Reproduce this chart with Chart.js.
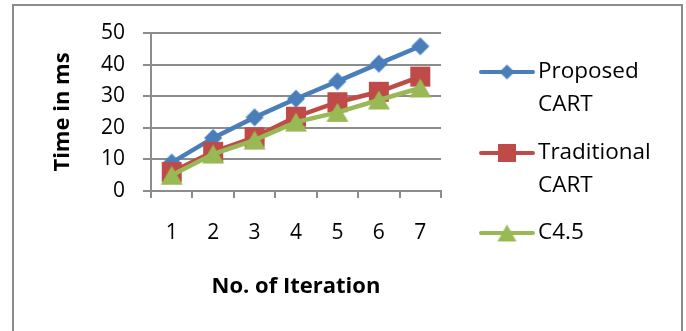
<!DOCTYPE html>
<html>
<head>
<meta charset="utf-8">
<script src="https://cdn.jsdelivr.net/npm/chart.js@4.4.0/dist/chart.umd.min.js"></script>
<style>
  html, body { margin: 0; padding: 0; background: #fff; }
  #wrap { width: 686px; height: 331px; position: relative; }
</style>
</head>
<body>
<div id="wrap"><canvas id="c" width="686" height="331"></canvas></div>
<script>
// Running time per iteration for the three decision-tree builders
const iterations = ['1', '2', '3', '4', '5', '6', '7'];
const proposedCart = [9, 16.8, 23.3, 29.2, 34.7, 40.3, 45.8];
const traditionalCart = [6, 12.4, 17, 23.5, 28.1, 31.4, 36.2];
const c45 = [5, 11.7, 16.1, 21.8, 24.9, 28.8, 32.6];
const yTicks = [0, 10, 20, 30, 40, 50];
const seriesNames = [['Proposed', 'CART'], ['Traditional', 'CART'], ['C4.5']];

const FONT = '"Open Sans", "DejaVu Sans", sans-serif';
const BLUE = '#4A7EBB';
const RED = '#BE4B48';
const GREEN = '#98B954';
const GRID = '#8C8C8C';

// Small offscreen canvases used as point markers
function markerCanvas(shape, w, h, color) {
  const cv = document.createElement('canvas');
  cv.width = Math.ceil(w) + 2;
  cv.height = Math.ceil(h) + 2;
  const g = cv.getContext('2d');
  const cx = cv.width / 2, cy = cv.height / 2;
  g.fillStyle = color;
  g.beginPath();
  if (shape === 'diamond') {
    g.moveTo(cx, cy - h / 2); g.lineTo(cx + w / 2, cy);
    g.lineTo(cx, cy + h / 2); g.lineTo(cx - w / 2, cy);
  } else if (shape === 'square') {
    g.rect(cx - w / 2, cy - h / 2, w, h);
  } else {
    g.moveTo(cx, cy - h / 2); g.lineTo(cx + w / 2, cy + h / 2); g.lineTo(cx - w / 2, cy + h / 2);
  }
  g.closePath();
  g.fill();
  return cv;
}

const series = [
  { name: seriesNames[0], values: proposedCart, color: BLUE, shape: 'diamond', size: [18, 18], legendSize: [15, 15] },
  { name: seriesNames[1], values: traditionalCart, color: RED, shape: 'square', size: [20, 20], legendSize: [18, 18] },
  { name: seriesNames[2], values: c45, color: GREEN, shape: 'triangle', size: [22, 19], legendSize: [19, 17] }
];

// Outer frame around the whole figure
const framePlugin = {
  id: 'frame',
  beforeDraw(chart) {
    const g = chart.ctx;
    g.save();
    g.fillStyle = '#fff';
    g.fillRect(0, 0, chart.width, chart.height);
    g.strokeStyle = GRID;
    g.lineWidth = 2;
    g.strokeRect(13, 5, 669, 400);
    g.restore();
  }
};

// Legend on the right: line with marker, wrapped two-line names
const legendPlugin = {
  id: 'sideLegend',
  afterDraw(chart) {
    const g = chart.ctx;
    const rows = [72, 153, 233];
    const lineH = 33;
    g.save();
    series.forEach((s, i) => {
      const y = rows[i];
      g.strokeStyle = s.color;
      g.lineWidth = 4;
      g.lineCap = 'round';
      g.beginPath();
      g.moveTo(481, y);
      g.lineTo(533, y);
      g.stroke();
      const m = markerCanvas(s.shape, s.legendSize[0], s.legendSize[1], s.color);
      g.drawImage(m, 507 - m.width / 2, y - m.height / 2);
      g.fillStyle = '#000';
      g.font = '22.5px ' + FONT;
      g.textBaseline = 'middle';
      g.textAlign = 'left';
      s.name.forEach((t, k) => g.fillText(t, 538, y + k * lineH));
    });
    g.restore();
  }
};

new Chart(document.getElementById('c').getContext('2d'), {
  type: 'line',
  data: {
    labels: iterations,
    datasets: series.map((s, i) => ({
      label: s.name.join(' '),
      data: s.values,
      borderColor: s.color,
      backgroundColor: s.color,
      borderWidth: 4.5,
      pointStyle: markerCanvas(s.shape, s.size[0], s.size[1], s.color),
      pointRadius: 10,
      tension: 0,
      fill: false,
      order: 2 - i
    }))
  },
  options: {
    responsive: false,
    animation: false,
    devicePixelRatio: 1,
    events: [],
    layout: { padding: { left: 13, right: 245, top: 33, bottom: 0 } },
    plugins: { legend: { display: false }, tooltip: { enabled: false } },
    scales: {
      x: {
        offset: true,
        grid: { offset: true, drawOnChartArea: false, color: GRID, lineWidth: 2, tickLength: 7 },
        border: { display: true, color: GRID, width: 2 },
        ticks: { padding: 22, color: '#000', font: { family: FONT, size: 21 } },
        title: {
          display: true, text: 'No. of Iteration', color: '#000',
          font: { family: FONT, size: 22, weight: 'bold' }, padding: { top: 0, bottom: 31 }
        },
        afterFit(s) { s.height = 140; }
      },
      y: {
        min: 0, max: 50,
        afterBuildTicks(s) { s.ticks = yTicks.map(v => ({ value: v })); },
        grid: { color: GRID, lineWidth: 2, tickLength: 8 },
        border: { display: true, color: GRID, width: 2 },
        ticks: { padding: 18, color: '#000', font: { family: FONT, size: 21 } },
        title: {
          display: true, text: 'Time in ms', color: '#000',
          font: { family: FONT, size: 22, weight: 'bold' }, padding: { top: 37, bottom: 0 }
        },
        afterFit(s) { s.width = 138; }
      }
    }
  },
  plugins: [framePlugin, legendPlugin]
});
</script>
</body>
</html>
